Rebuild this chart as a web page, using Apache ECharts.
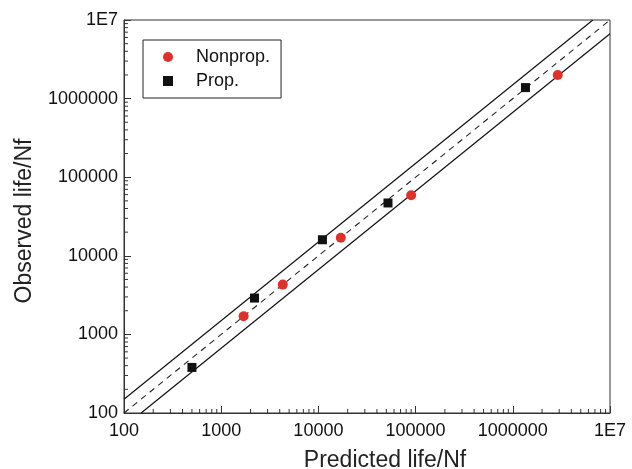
<!DOCTYPE html>
<html>
<head>
<meta charset="utf-8">
<script src="https://cdn.jsdelivr.net/npm/echarts@6/dist/echarts.min.js"></script>
<style>html,body{margin:0;padding:0;background:#fff}#c{width:632px;height:469px}</style>
</head>
<body>
<div id="c"></div>
<script>
// Data
const nonpropPredicted = [1700, 4300, 17000, 90000, 2900000];
const nonpropObserved  = [1700, 4300, 17000, 59000, 2000000];
const propPredicted = [500, 2200, 11000, 52000, 1350000];
const propObserved  = [380, 2900, 16000, 47000, 1380000];
// Reference lines: y = x, y = 1.5x, y = x/1.5 (endpoints on axis bounds)
const equalLine = [[100, 100], [10000000, 10000000]];
const upperLine = [[100, 150], [6666667, 10000000]];
const lowerLine = [[150, 100], [10000000, 6666667]];
// Minor tick values (log decades)
const minorTickValues = [];
[100, 1000, 10000, 100000, 1000000].forEach(d => { for (let k = 2; k <= 9; k++) minorTickValues.push(k * d); });

const font = 'Liberation Sans, Arial, Helvetica, sans-serif';
const axisColor = '#333';

function pairs(xs, ys) { return xs.map((x, i) => [x, ys[i]]); }

const chart = echarts.init(document.getElementById('c'));
chart.setOption({
  animation: false,
  backgroundColor: '#fff',
  grid: { left: 124, right: 22, top: 20, bottom: 56, show: true, borderColor: axisColor, borderWidth: 1,
    backgroundColor: 'transparent', containLabel: false, outerBoundsMode: 'none' },
  legend: {
    orient: 'vertical', left: 143, top: 40,
    padding: [8, 11, 8, 20],
    borderColor: '#222', borderWidth: 1,
    itemWidth: 10, itemHeight: 10, itemGap: 6,
    textStyle: { fontFamily: font, fontSize: 18, color: '#111', padding: [0, 0, 0, 18] },
    data: [
      { name: 'Nonprop.', icon: 'circle' },
      { name: 'Prop.', icon: 'rect' }
    ]
  },
  xAxis: {
    type: 'log', logBase: 10, min: 100, max: 10000000,
    name: 'Predicted life/Nf', nameLocation: 'middle', nameGap: 36,
    nameTextStyle: { fontFamily: font, fontSize: 23, color: '#222', padding: [0, 0, 0, 36] },
    axisLine: { lineStyle: { color: axisColor, width: 1 } },
    axisTick: { inside: true, length: 7, lineStyle: { color: axisColor } },
    axisLabel: { fontFamily: font, fontSize: 18, color: '#111', margin: 9,
      formatter: v => v >= 10000000 ? '1E7' : String(Math.round(v)) },
    splitLine: { show: false }
  },
  yAxis: {
    type: 'log', logBase: 10, min: 100, max: 10000000,
    name: 'Observed life/Nf', nameLocation: 'middle', nameGap: 88,
    nameTextStyle: { fontFamily: font, fontSize: 23, color: '#222', padding: [0, 9, 0, 0] },
    axisLine: { lineStyle: { color: axisColor, width: 1 } },
    axisTick: { inside: true, length: 7, lineStyle: { color: axisColor } },
    axisLabel: { fontFamily: font, fontSize: 18, color: '#111', margin: 6,
      formatter: v => v >= 10000000 ? '1E7' : String(Math.round(v)) },
    splitLine: { show: false }
  },
  series: [
    { type: 'line', data: upperLine, symbol: 'none', silent: true, lineStyle: { color: '#111', width: 1.2 }, z: 2 },
    { type: 'line', data: lowerLine, symbol: 'none', silent: true, lineStyle: { color: '#111', width: 1.2 }, z: 2 },
    { type: 'line', data: equalLine, symbol: 'none', silent: true, lineStyle: { color: '#222', width: 1.1, type: [6, 5] }, z: 2 },
    {
      type: 'custom', silent: true, clip: false, z: 1,
      data: minorTickValues.map(v => [v]),
      renderItem: function (params, api) {
        const v = api.value(0);
        const bx = api.coord([v, 100]);
        const ly = api.coord([100, v]);
        return { type: 'group', children: [
          { type: 'line', shape: { x1: bx[0], y1: bx[1], x2: bx[0], y2: bx[1] - 4 }, style: { stroke: axisColor, lineWidth: 1 } },
          { type: 'line', shape: { x1: ly[0], y1: ly[1], x2: ly[0] + 4, y2: ly[1] }, style: { stroke: axisColor, lineWidth: 1 } }
        ] };
      }
    },
    { name: 'Nonprop.', type: 'scatter', data: pairs(nonpropPredicted, nonpropObserved), symbol: 'circle', symbolSize: 10,
      itemStyle: { color: '#e0302a', opacity: 1 }, z: 5 },
    { name: 'Prop.', type: 'scatter', data: pairs(propPredicted, propObserved), symbol: 'rect', symbolSize: 9,
      itemStyle: { color: '#111', opacity: 1 }, z: 5 }
  ]
});
</script>
</body>
</html>
